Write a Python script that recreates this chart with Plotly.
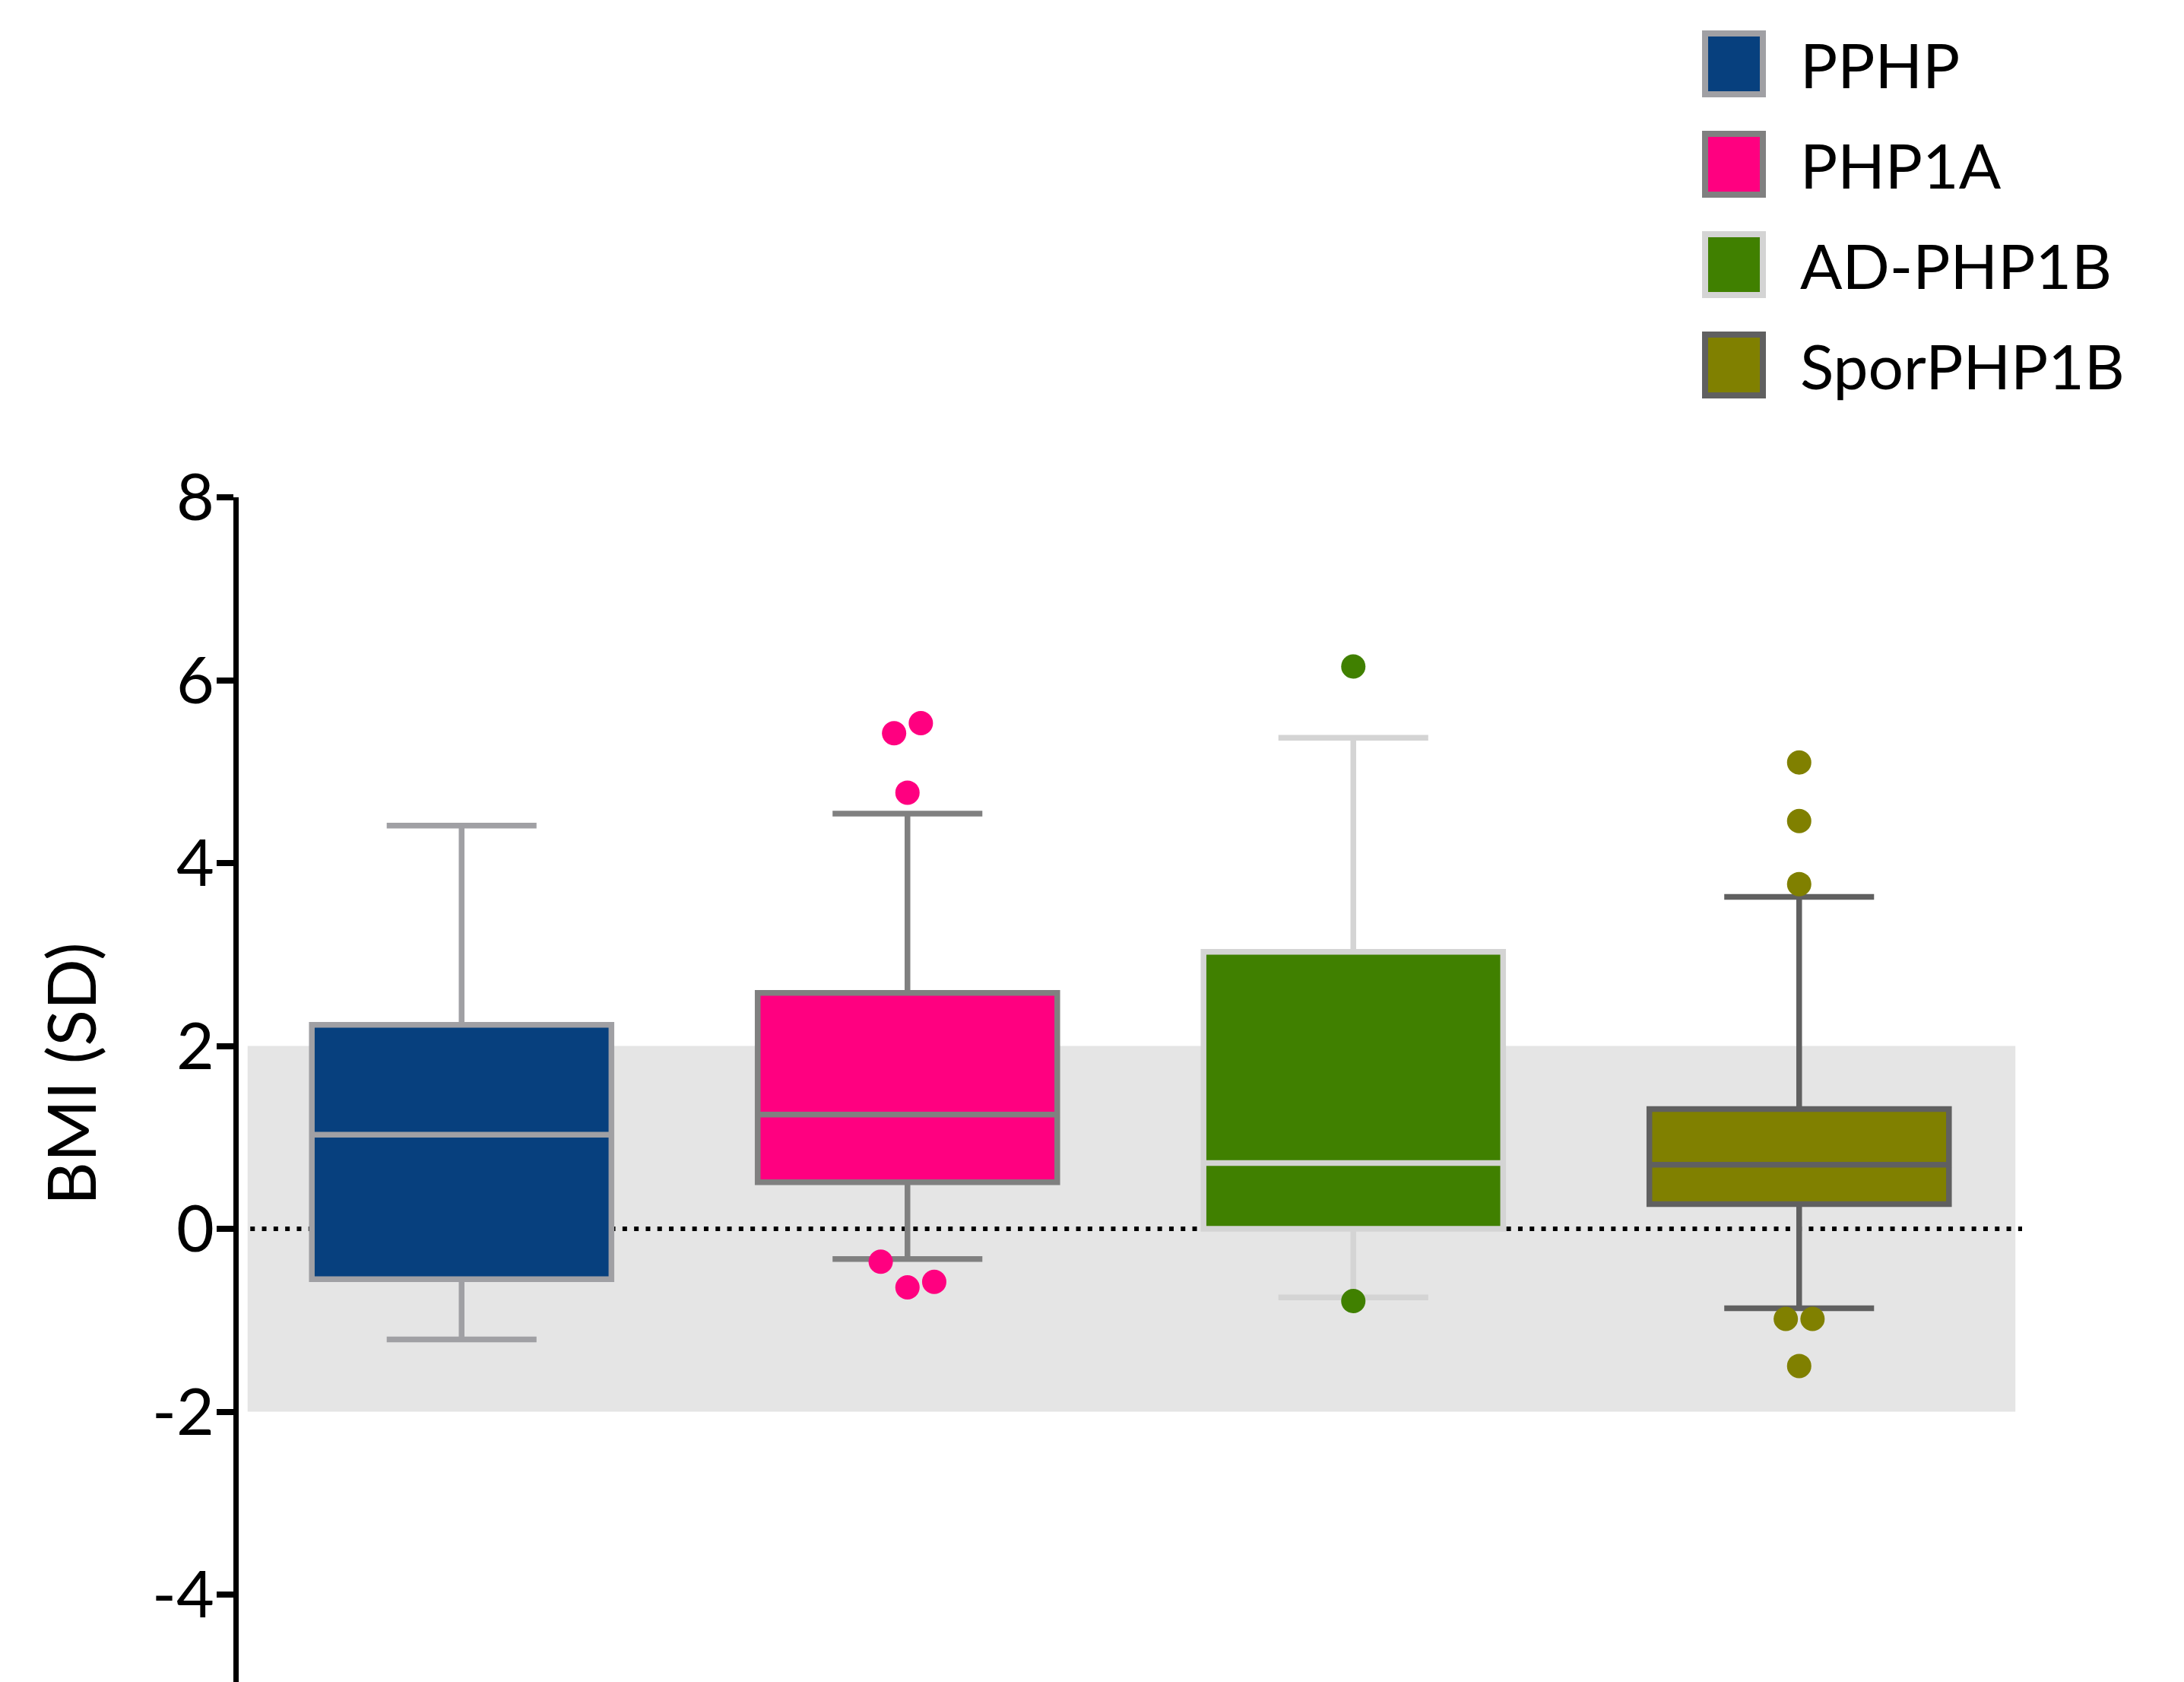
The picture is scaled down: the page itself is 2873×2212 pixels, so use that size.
import plotly.graph_objects as go

# ---------------- data ----------------
groups = ["PPHP", "PHP1A", "AD-PHP1B", "SporPHP1B"]
q1 = [-0.55, 0.51, 0.0, 0.27]
median = [1.03, 1.25, 0.72, 0.70]
q3 = [2.23, 2.58, 3.03, 1.31]
lower_whisker = [-1.21, -0.33, -0.75, -0.87]
upper_whisker = [4.41, 4.54, 5.37, 3.63]

# outliers per group (value, horizontal jitter in category units)
outlier_values = [
    [],
    [5.42, 5.53, 4.77, -0.36, -0.64, -0.58],
    [6.15, -0.79],
    [5.10, 4.46, 3.77, -0.985, -0.985, -1.50],
]
outlier_jitter = [
    [],
    [-0.03, 0.03, 0.0, -0.06, 0.0, 0.06],
    [0.0, 0.0],
    [0.0, 0.0, 0.0, -0.03, 0.03, 0.0],
]

normal_band = [-2, 2]
reference_line = 0
y_tickvals = [-4, -2, 0, 2, 4, 6, 8]
y_ticktext = ["-4", "-2", "0", "2", "4", "6", "8"]
y_title = "BMI (SD)"

# ---------------- styles ----------------
fill_colors = ["#07407E", "#FF0080", "#408000", "#808000"]
edge_colors = ["#A0A0A4", "#808080", "#D4D4D4", "#606060"]
FONT = "Lato"

W, H = 2873, 2212
L, R, T, B = 314, 213, 654, 0
PW, PH = W - L - R, H - T - B


def px_to_paper_x(px):
    return (px - L) / PW


def px_to_paper_y(py):
    return (H - B - py) / PH


fig = go.Figure()

for i, g in enumerate(groups):
    fig.add_trace(go.Box(
        x=[i], q1=[q1[i]], median=[median[i]], q3=[q3[i]],
        lowerfence=[lower_whisker[i]], upperfence=[upper_whisker[i]],
        name=g, width=0.672, whiskerwidth=0.5,
        fillcolor=fill_colors[i],
        line=dict(color=edge_colors[i], width=7.5),
        boxpoints=False, showlegend=False, hoverinfo="skip",
    ))

for i, g in enumerate(groups):
    if not outlier_values[i]:
        continue
    fig.add_trace(go.Scatter(
        x=[i + j for j in outlier_jitter[i]], y=outlier_values[i],
        mode="markers",
        marker=dict(size=32, color=fill_colors[i], line=dict(width=0)),
        showlegend=False, hoverinfo="skip",
    ))

# normal range band and zero reference line
fig.add_shape(type="rect", xref="x", yref="y", x0=-0.48, x1=3.485,
              y0=normal_band[0], y1=normal_band[1],
              fillcolor="#E5E5E5", line=dict(width=0), layer="below")
fig.add_shape(type="line", xref="x", yref="y", x0=-0.474, x1=3.5,
              y0=reference_line, y1=reference_line,
              line=dict(color="black", width=6, dash="6px,9.3px"), layer="below")

# manual legend
sw_x0, sw_x1 = 2243, 2319
row_tops = [44, 176, 308, 440]
sw_h = 80
for i, g in enumerate(groups):
    y0p, y1p = row_tops[i], row_tops[i] + sw_h
    fig.add_shape(type="rect", xref="paper", yref="paper",
                  x0=px_to_paper_x(sw_x0), x1=px_to_paper_x(sw_x1),
                  y0=px_to_paper_y(y1p), y1=px_to_paper_y(y0p),
                  fillcolor=fill_colors[i],
                  line=dict(color=edge_colors[i], width=8))
    fig.add_annotation(xref="paper", yref="paper",
                       x=px_to_paper_x(2366), y=px_to_paper_y((y0p + y1p) / 2),
                       xanchor="left", yanchor="middle", showarrow=False,
                       text=g, font=dict(family=FONT, size=82, color="black"))

# y-axis title
fig.add_annotation(xref="paper", yref="paper",
                   x=px_to_paper_x(92), y=px_to_paper_y(1412),
                   xanchor="center", yanchor="middle", showarrow=False,
                   text=y_title, textangle=-90,
                   font=dict(family=FONT, size=88, color="black"))

fig.update_layout(
    width=W, height=H,
    margin=dict(l=L, r=R, t=T, b=B, pad=0),
    paper_bgcolor="white", plot_bgcolor="white",
    showlegend=False,
    font=dict(family=FONT, color="black"),
    xaxis=dict(range=[-0.5, 3.5], showline=False, showticklabels=False,
               showgrid=False, zeroline=False, ticks=""),
    yaxis=dict(range=[8 - PH / 120.25, 8], tickvals=y_tickvals, ticktext=y_ticktext,
               showline=True, linecolor="black", linewidth=7,
               ticks="outside", ticklen=22, tickwidth=8, tickcolor="black",
               ticklabelstandoff=-14,
               tickfont=dict(family=FONT, size=86, color="black"),
               showgrid=False, zeroline=False),
)

fig.write_html("out.html")
